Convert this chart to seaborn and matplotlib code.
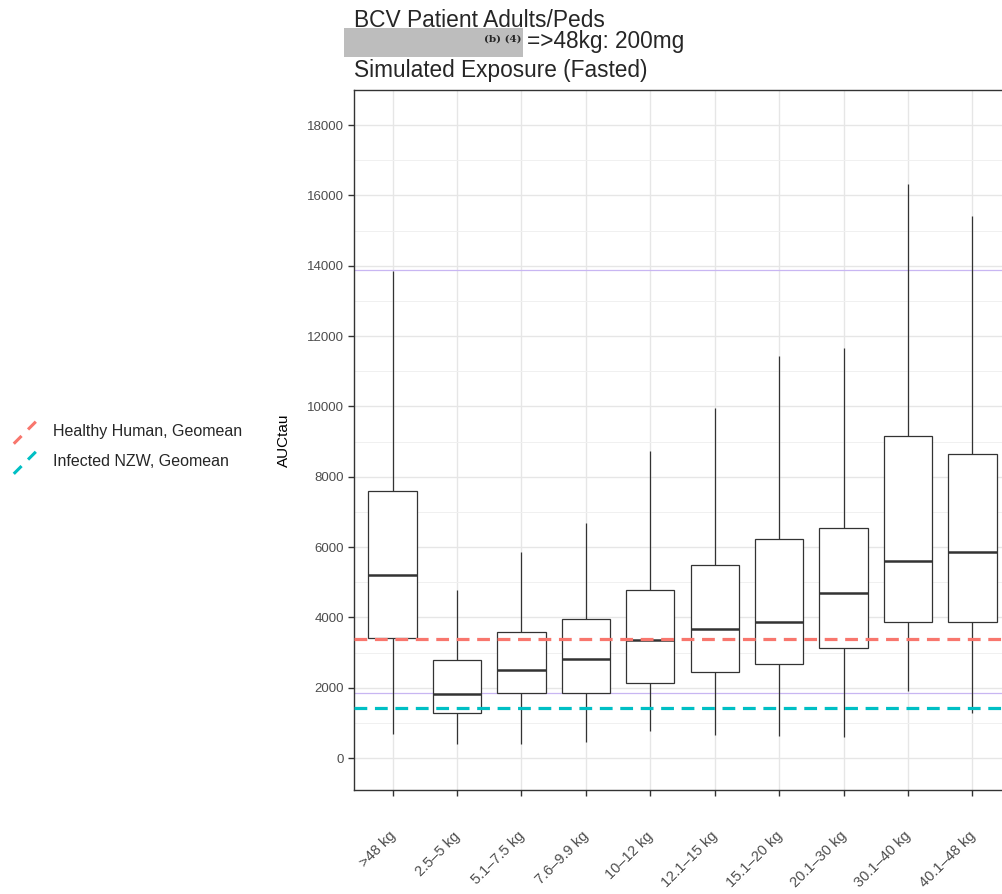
import numpy as np
import pandas as pd
import matplotlib
matplotlib.use("Agg")
import matplotlib.pyplot as plt
import matplotlib.transforms as mtransforms
import seaborn as sns
from matplotlib.lines import Line2D
from matplotlib.legend_handler import HandlerBase
from matplotlib.patches import Rectangle

# ---- data (five-number summaries) ----
categories = [">48 kg", "2.5\u20135 kg", "5.1\u20137.5 kg", "7.6\u20139.9 kg", "10\u201312 kg",
              "12.1\u201315 kg", "15.1\u201320 kg", "20.1\u201330 kg", "30.1\u201340 kg", "40.1\u201348 kg"]
whisker_low = [680, 390, 415, 450, 760, 650, 640, 600, 1920, 1280]
q1 = [3405, 1283, 1840, 1858, 2141, 2462, 2689, 3132, 3869, 3877]
median = [5207, 1811, 2509, 2821, 3349, 3679, 3877, 4689, 5595, 5849]
q3 = [7593, 2793, 3594, 3962, 4783, 5490, 6226, 6557, 9161, 8651]
whisker_high = [13850, 4773, 5849, 6679, 8735, 9943, 11425, 11651, 16320, 15404]

ref_labels = ["Healthy Human, Geomean", "Infected NZW, Geomean"]
ref_values = [3396, 1435]
ref_colors = ["#F8766D", "#00BFC4"]
range_lines = [13868, 1840]

yticks = [0, 2000, 4000, 6000, 8000, 10000, 12000, 14000, 16000, 18000]

rows = []
for i, c in enumerate(categories):
    for v in (whisker_low[i], q1[i], median[i], q3[i], whisker_high[i]):
        rows.append({"group": c, "AUCtau": v})
df = pd.DataFrame(rows)

sns.set_theme(style="whitegrid")
plt.rcParams["font.family"] = ["Liberation Sans", "DejaVu Sans"]

W, H = 1002, 894
fig = plt.figure(figsize=(W / 100, H / 100), dpi=100)
ax = fig.add_axes([354 / W, 1 - 790 / H, (1011 - 354) / W, (790 - 90) / H])
ax.set_facecolor("white")

sns.boxplot(data=df, x="group", y="AUCtau", order=categories, whis=(0, 100), width=0.75,
            color="white", linecolor="#333333", linewidth=0.9, fliersize=0,
            capprops={"linewidth": 0},
            medianprops={"linewidth": 1.8, "color": "#333333"}, ax=ax, zorder=3)

for v in range_lines:
    ax.axhline(v, color="#C8B6F2", linewidth=0.9, zorder=2)
for v, c in zip(ref_values, ref_colors):
    ax.axhline(v, color=c, linewidth=2.3, dashes=(4, 2.4), zorder=4)

ax.set_xlim(-0.6, 9.6)
ax.set_ylim(-906, 18904)
ax.set_yticks(yticks)
ax.set_yticklabels([str(t) for t in yticks])
ax.set_yticks([1000 + 2000 * k for k in range(10)], minor=True)
ax.grid(True, which="major", color="#E6E6E6", linewidth=1.0)
ax.grid(True, which="minor", axis="y", color="#F0F0F0", linewidth=0.7)
ax.set_axisbelow(True)
for s in ax.spines.values():
    s.set_color("#333333")
    s.set_linewidth(1.0)
    s.set_visible(True)
ax.tick_params(axis="both", which="major", length=4, width=1, color="#333333",
               labelcolor="#4D4D4D", labelsize=9.5, pad=3, left=True, bottom=True)
ax.tick_params(axis="y", which="minor", length=0)
ax.tick_params(axis="x", pad=24, labelsize=10.5)
shift = mtransforms.ScaledTranslation(-4 / 100, 0, fig.dpi_scale_trans)
for lbl in ax.get_xticklabels():
    lbl.set_rotation(45)
    lbl.set_ha("right")
    lbl.set_va("top")
    lbl.set_rotation_mode("anchor")
    lbl.set_transform(lbl.get_transform() + shift)
ax.set_xlabel("")
ax.set_ylabel("AUCtau", fontsize=11, color="black", labelpad=12)

# ---- title ----
fig.text(354 / W, 1 - 27 / H, "BCV Patient Adults/Peds", fontsize=16.4, va="baseline", ha="left")
fig.patches.append(Rectangle((344 / W, 1 - 57 / H), (523 - 344) / W, 29 / H,
                             transform=fig.transFigure, facecolor="#BDBDBD", edgecolor="none"))
fig.text(521 / W, 1 - 42 / H, "(b) (4)", fontsize=7.5, fontweight="bold", family="DejaVu Serif",
         va="baseline", ha="right")
fig.text(527 / W, 1 - 48 / H, "=>48kg: 200mg", fontsize=16.3, va="baseline", ha="left")
fig.text(354 / W, 1 - 77 / H, "Simulated Exposure (Fasted)", fontsize=16.3, va="baseline", ha="left")

# ---- legend ----
class DiagHandler(HandlerBase):
    def create_artists(self, legend, orig_handle, xdescent, ydescent, width, height, fontsize, trans):
        x0 = -xdescent
        cy = -ydescent + height / 2.0
        half = width / 2.0
        ln = Line2D([x0, x0 + width], [cy - half, cy + half],
                    color=orig_handle.get_color(), linewidth=2.2, dashes=(3.6, 3.0))
        ln.set_transform(trans)
        return [ln]

handles = [Line2D([], [], color=c) for c in ref_colors]
fig.legend(handles, ref_labels, handler_map={Line2D: DiagHandler()}, loc="center left",
           bbox_to_anchor=(1 / W, 1 - 446 / H), frameon=False, fontsize=11.5,
           handlelength=1.6, handleheight=1.6, handletextpad=0.85, labelspacing=0.6,
           borderpad=0.3)

fig.savefig("out.png", dpi=100)
